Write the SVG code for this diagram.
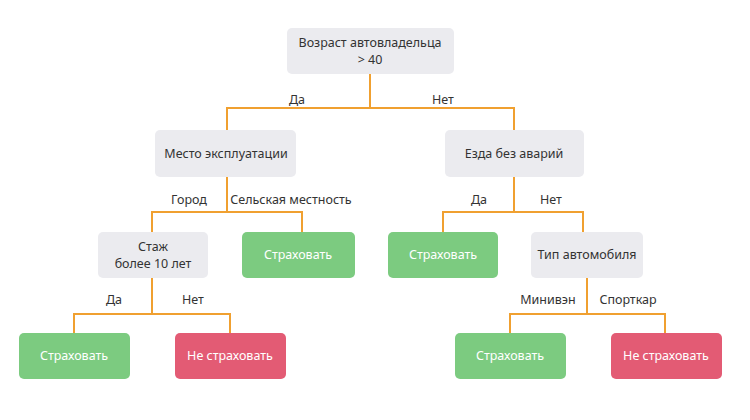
<svg xmlns="http://www.w3.org/2000/svg" width="750" height="420" viewBox="0 0 750 420">
<style>
text{font-family:"Noto Sans","Open Sans",sans-serif;font-size:12.5px;fill:#333;text-anchor:middle}
.g rect{fill:#ebebef}
.s rect{fill:#7ccb80}
.n rect{fill:#e35b74}
.s text,.n text{fill:#fff}
.c{stroke:#f0a030;stroke-width:2;fill:none}
</style>
<rect width="750" height="420" fill="#fff"/>
<g id="connectors">
<path class="c" d="M370 74V108M227 130V108H514V130"/>
<path class="c" d="M227 177V212M152 232V212H302V232"/>
<path class="c" d="M514 177V212M443 232V212H583V232"/>
<path class="c" d="M152 278V314M74 333V314H230V333"/>
<path class="c" d="M587 278V314M510 333V314H665V333"/>
<text x="297" y="104">Да</text><text x="443" y="104">Нет</text>
<text x="189" y="204">Город</text><text x="291" y="204">Сельская местность</text>
<text x="479" y="204">Да</text><text x="551" y="204">Нет</text>
<text x="114" y="304">Да</text><text x="193" y="304">Нет</text>
<text x="548" y="304">Минивэн</text><text x="628" y="304">Спорткар</text>
</g>
<g id="root" class="g"><rect x="287" y="28" width="167" height="46" rx="5"/><text x="370" y="47">Возраст автовладельца</text><text x="370" y="64">&gt; 40</text></g>
<g id="place" class="g"><rect x="155" y="130" width="141" height="47" rx="5"/><text x="226" y="158">Место эксплуатации</text></g>
<g id="noacc" class="g"><rect x="445" y="130" width="139" height="47" rx="5"/><text x="514" y="158">Езда без аварий</text></g>
<g id="exp" class="g"><rect x="98" y="232" width="110" height="46" rx="5"/><text x="153" y="251">Стаж</text><text x="153" y="268">более 10 лет</text></g>
<g id="ins1" class="s"><rect x="242" y="232" width="113" height="46" rx="5"/><text x="298" y="259">Страховать</text></g>
<g id="ins2" class="s"><rect x="388" y="232" width="110" height="46" rx="5"/><text x="443" y="259">Страховать</text></g>
<g id="type" class="g"><rect x="531" y="232" width="112" height="46" rx="5"/><text x="587" y="259">Тип автомобиля</text></g>
<g id="ins3" class="s"><rect x="19" y="333" width="111" height="46" rx="5"/><text x="74" y="360">Страховать</text></g>
<g id="no1" class="n"><rect x="175" y="333" width="111" height="46" rx="5"/><text x="230" y="360">Не страховать</text></g>
<g id="ins4" class="s"><rect x="455" y="333" width="111" height="46" rx="5"/><text x="510" y="360">Страховать</text></g>
<g id="no2" class="n"><rect x="611" y="333" width="111" height="46" rx="5"/><text x="666" y="360">Не страховать</text></g>
</svg>
